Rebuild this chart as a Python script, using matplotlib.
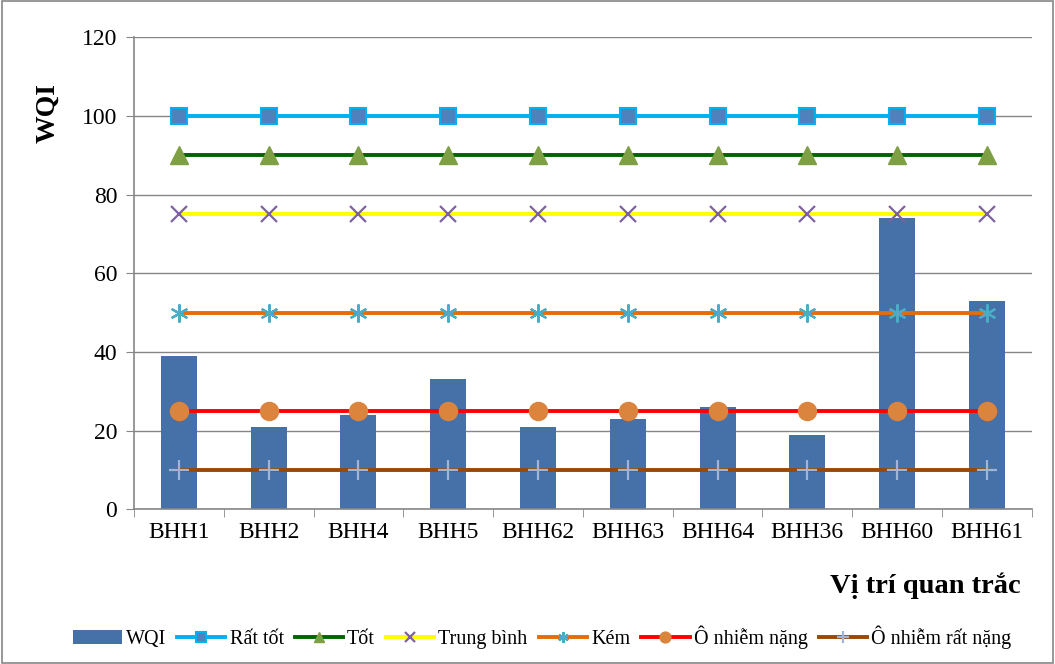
import matplotlib
matplotlib.use('Agg')
from matplotlib import pyplot as plt
from matplotlib.patches import Rectangle

plt.rcParams['font.family'] = ['Liberation Serif', 'DejaVu Serif']

sites = ['BHH1', 'BHH2', 'BHH4', 'BHH5', 'BHH62', 'BHH63', 'BHH64', 'BHH36', 'BHH60', 'BHH61']
wqi = [39, 21, 24, 33, 21, 23, 26, 19, 74, 53]

# reference levels for the water quality classes
classes = ['Rất tốt', 'Tốt', 'Trung bình', 'Kém', 'Ô nhiễm nặng', 'Ô nhiễm rất nặng']
levels = [100, 90, 75, 50, 25, 10]

styles = [
    dict(color='#00B0F0', marker='s', mfc='#4F81BD', mec='#00B0F0', ms=11, mew=1.5),
    dict(color='#006400', marker='^', mfc='#7F9F44', mec='#7F9F44', ms=13),
    dict(color='#FFFF00', marker='x', mfc='#7E62A0', mec='#7E62A0', ms=12, mew=1.6),
    dict(color='#E46C0A', marker=(6, 2, 0), mfc='#4BACC6', mec='#4BACC6', ms=13, mew=1.6),
    dict(color='#FF0000', marker='o', mfc='#DB843D', mec='#DB843D', ms=13),
    dict(color='#984807', marker='+', mfc='#A0B4D8', mec='#A0B4D8', ms=14, mew=1.6),
]

fig = plt.figure(figsize=(10.55, 6.64), dpi=100)
ax = fig.add_axes([0.127, 0.233, 0.851, 0.711])

x = list(range(len(sites)))
bars = ax.bar(x, wqi, width=0.4, color='#4571A8', label='WQI', zorder=2)
lines = []
for name, lvl, st in zip(classes, levels, styles):
    ln, = ax.plot(x, [lvl] * len(x), lw=2.8, label=name, zorder=3, **st)
    lines.append(ln)

ax.set_xlim(-0.5, len(sites) - 0.5)
ax.set_ylim(0, 120)
ax.set_yticks(range(0, 121, 20))
ax.set_xticks(x)
ax.set_xticklabels(sites, fontsize=17)
ax.set_xticks([i + 0.5 for i in range(-1, len(sites))], minor=True)
ax.tick_params(axis='x', which='major', length=0, pad=9)
ax.tick_params(axis='x', which='minor', length=6, color='#868686', direction='out')
ax.tick_params(axis='y', labelsize=17, length=6, color='#868686', pad=6)
ax.grid(axis='y', color='#868686', lw=1, zorder=0)
for side in ['top', 'right']:
    ax.spines[side].set_visible(False)
for side in ['left', 'bottom']:
    ax.spines[side].set_color('#868686')
    ax.spines[side].set_linewidth(1.2)

fig.text(0.045, 0.83, 'WQI', rotation=90, fontsize=20, fontweight='bold', ha='center', va='center')
fig.text(0.967, 0.118, 'Vị trí quan trắc', fontsize=20.5, fontweight='bold', ha='right', va='center')

fig.legend([bars] + lines, ['WQI'] + classes, loc='center', bbox_to_anchor=(0.514, 0.04),
           ncol=7, frameon=False, fontsize=14.5, handlelength=2.4, handletextpad=0.2,
           columnspacing=0.55, markerscale=0.6)

fig.patches.append(Rectangle((0.002, 0.002), 0.996, 0.996, transform=fig.transFigure,
                             fill=False, edgecolor='#868686', lw=1.2))

fig.savefig('out.png', dpi=100)
